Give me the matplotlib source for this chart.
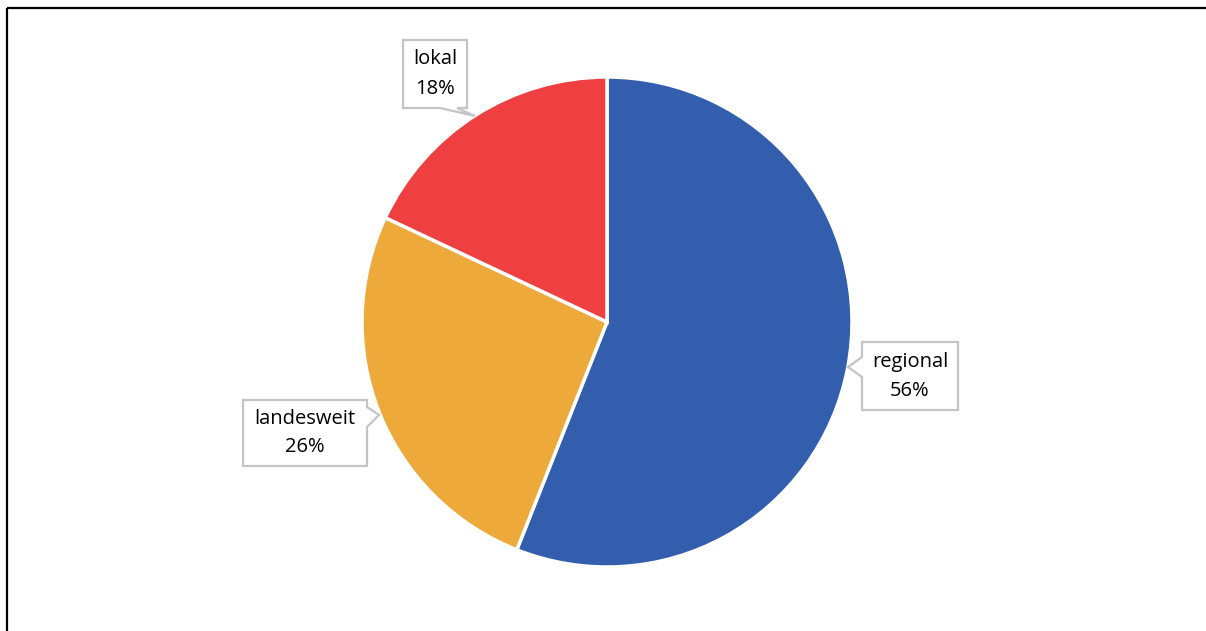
import matplotlib.pyplot as plt
from matplotlib.patches import Polygon

labels = ["regional", "landesweit", "lokal"]
shares = [56, 26, 18]
colors = ["#325EAD", "#EDA93A", "#EE4040"]

W, H = 1206, 631


def flip(pts):
    # pixel coords measured from the top -> axes coords measured from the bottom
    return [(x, H - y) for x, y in pts]


def callout(ax, box, side, base, tip, text):
    x0, y0, x1, y1 = box
    if side == "bottom":
        pts = [(x0, y0), (x1, y0), (x1, y1), (base[1], y1), tip, (base[0], y1), (x0, y1)]
    elif side == "left":
        pts = [(x0, y0), (x1, y0), (x1, y1), (x0, y1), (x0, base[1]), tip, (x0, base[0])]
    else:
        pts = [(x0, y0), (x1, y0), (x1, base[0]), tip, (x1, base[1]), (x1, y1), (x0, y1)]
    ax.add_patch(Polygon(flip(pts), closed=True, facecolor="white",
                         edgecolor="#C4C4C4", linewidth=1.6, zorder=3))
    ax.text((x0 + x1) / 2, H - (y0 + y1) / 2, text, ha="center", va="center",
            fontsize=14.5, linespacing=1.6, family="Open Sans", zorder=4)


fig = plt.figure(figsize=(W / 100, H / 100), dpi=100)
ax = fig.add_axes([0, 0, 1, 1])
ax.set_xlim(0, W)
ax.set_ylim(0, H)
ax.set_aspect("equal")
ax.axis("off")

ax.pie(shares, colors=colors, startangle=90, counterclock=False,
       center=(607, H - 322), radius=245,
       wedgeprops=dict(edgecolor="white", linewidth=2.5))
ax.set_xlim(0, W)
ax.set_ylim(0, H)

texts = [f"{l}\n{s}%" for l, s in zip(labels, shares)]
callout(ax, (862, 342, 958, 410), "left", (357, 377), (848, 367), texts[0])
callout(ax, (243, 400, 367, 466), "right", (407, 427), (379, 415), texts[1])
callout(ax, (403, 40, 467, 108), "bottom", (440, 457), (475, 116), texts[2])

# frame: top and left edges only
ax.plot([6.5, W], [H - 7.5, H - 7.5], color="black", linewidth=1.6, solid_capstyle="butt")
ax.plot([6.5, 6.5], [0, H - 7.5], color="black", linewidth=1.6, solid_capstyle="butt")

fig.savefig("out.png", dpi=100)
